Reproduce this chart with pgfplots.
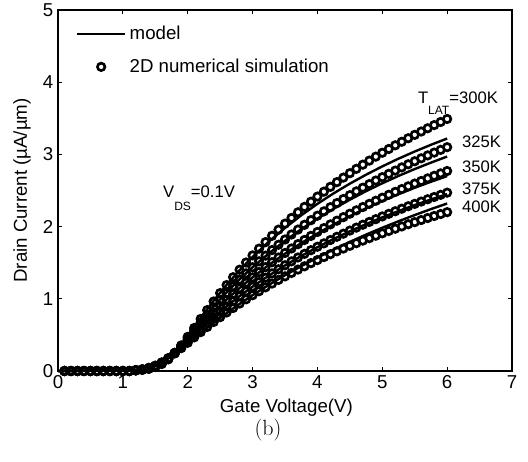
\documentclass[border=0pt]{standalone}
\usepackage{fontspec}
\setsansfont{Liberation Sans}
\usepackage{pgfplots}
\pgfplotsset{compat=1.18}
\newcommand{\axfont}{\sffamily\fontsize{14}{16}\selectfont}
\newcommand{\anfont}{\sffamily\fontsize{12.5}{14}\selectfont}
\newcommand{\subf}[2]{\raisebox{#1}{\fontsize{9}{10}\selectfont #2}}
\pgfplotsset{
  lineleg/.style={legend image code/.code={\path[draw=none,fill=none] (0pt,-3pt) rectangle (36pt,3pt);\draw[##1] (0pt,0pt) -- (36pt,0pt);}},
  markleg/.style={legend image code/.code={\path[draw=none,fill=none] (0pt,-3pt) rectangle (36pt,3pt);\draw[mark repeat=2,mark phase=2,##1] plot coordinates {(0pt,0pt) (18pt,0pt) (36pt,0pt)};}},
}
\begin{document}
\begin{tikzpicture}
\useasboundingbox (-43.5pt,-67.5pt) rectangle (352.5pt,278.25pt);
\begin{axis}[
  at={(0pt,0pt)}, anchor=south west,
  scale only axis, width=340.5pt, height=270.75pt,
  xmin=0, xmax=7, ymin=0, ymax=5,
  xtick={0,1,2,3,4,5,6,7}, ytick={0,1,2,3,4,5},
  xticklabels={\textsf{0},\textsf{1},\textsf{2},\textsf{3},\textsf{4},\textsf{5},\textsf{6},\textsf{7}},
  yticklabels={\textsf{0},\textsf{1},\textsf{2},\textsf{3},\textsf{4},\textsf{5}},
  xtick pos=both, ytick pos=both, tick align=inside,
  major tick length=3pt,
  clip=false,
  tick label style={font=\axfont},
  label style={font=\axfont},
  axis line style={line width=0.8pt},
  every tick/.style={black, line width=0.6pt},
  xlabel={Gate Voltage(V)},
  ylabel={Drain Current (µA/µm)},
  xlabel style={at={(axis description cs:0.503,-0.1025)}, anchor=center},
  ylabel style={at={(axis description cs:-0.0793,0.5)}, anchor=center},
  legend style={draw=none, fill=none, at={(0.039,0.965)}, anchor=north west,
    row sep=8pt, inner sep=0pt, font=\axfont,
    nodes={inner sep=2.5pt}},
  legend cell align=left,
  model/.style={black, line width=1.8pt, no marks},
  sim/.style={black, only marks, mark=o, mark size=2.8pt, line width=2pt,
    mark options={line width=2pt, solid}},
]
\addlegendimage{model, lineleg}
\addlegendentry{model}
\addlegendimage{sim, markleg}
\addlegendentry{2D numerical simulation}

% model curves
\addplot[model, forget plot] coordinates {(0,0)(1.2,0.009)(1.4,0.032)(1.6,0.102)(1.8,0.258)(2.0,0.487)(2.2,0.736)(2.4,0.974)(2.6,1.193)(2.8,1.395)(3.0,1.580)(3.25,1.791)(3.5,1.982)(3.75,2.156)(4.0,2.315)(4.25,2.461)(4.5,2.595)(4.75,2.719)(5.0,2.834)(5.25,2.941)(5.5,3.040)(5.75,3.133)(6.0,3.220)};
\addplot[model, forget plot] coordinates {(0,0)(1.2,0.010)(1.4,0.034)(1.6,0.107)(1.8,0.258)(2.0,0.466)(2.2,0.685)(2.4,0.895)(2.6,1.090)(2.8,1.270)(3.0,1.437)(3.25,1.628)(3.5,1.803)(3.75,1.964)(4.0,2.111)(4.25,2.247)(4.5,2.373)(4.75,2.491)(5.0,2.600)(5.25,2.702)(5.5,2.797)(5.75,2.886)(6.0,2.970)};
\addplot[model, forget plot] coordinates {(0,0)(1.2,0.011)(1.4,0.037)(1.6,0.112)(1.8,0.256)(2.0,0.442)(2.2,0.635)(2.4,0.819)(2.6,0.990)(2.8,1.149)(3.0,1.297)(3.25,1.469)(3.5,1.626)(3.75,1.771)(4.0,1.905)(4.25,2.030)(4.5,2.145)(4.75,2.253)(5.0,2.354)(5.25,2.449)(5.5,2.538)(5.75,2.621)(6.0,2.700)};
\addplot[model, forget plot] coordinates {(0,0)(1.2,0.012)(1.4,0.040)(1.6,0.116)(1.8,0.250)(2.0,0.416)(2.2,0.585)(2.4,0.745)(2.6,0.896)(2.8,1.037)(3.0,1.168)(3.25,1.321)(3.5,1.462)(3.75,1.593)(4.0,1.715)(4.25,1.829)(4.5,1.935)(4.75,2.034)(5.0,2.128)(5.25,2.215)(5.5,2.298)(5.75,2.376)(6.0,2.450)};
\addplot[model, forget plot] coordinates {(0,0)(1.2,0.012)(1.4,0.042)(1.6,0.114)(1.8,0.236)(2.0,0.380)(2.2,0.527)(2.4,0.668)(2.6,0.802)(2.8,0.929)(3.0,1.050)(3.25,1.192)(3.5,1.326)(3.75,1.452)(4.0,1.570)(4.25,1.682)(4.5,1.788)(4.75,1.889)(5.0,1.984)(5.25,2.074)(5.5,2.160)(5.75,2.242)(6.0,2.320)};

% simulation: 300K
\addplot[sim, forget plot] coordinates {(0.1,0)(0.2,0)(0.3,0)(0.4,0)(0.5,0)(0.6,0)(0.7,0)(0.8,0)(0.9,0)(1.0,0)(1.1,0)(1.2,0.008)(1.3,0.016)(1.4,0.030)(1.5,0.055)(1.6,0.097)(1.7,0.161)(1.8,0.248)(1.9,0.354)(2.0,0.473)(2.1,0.596)(2.2,0.721)(2.3,0.843)(2.4,0.963)(2.5,1.079)(2.6,1.190)(2.7,1.299)(2.8,1.403)(2.9,1.503)(3.0,1.601)(3.1,1.695)(3.2,1.785)(3.3,1.873)(3.4,1.958)(3.5,2.041)(3.6,2.120)(3.7,2.198)(3.8,2.273)(3.9,2.345)(4.0,2.416)(4.1,2.484)(4.2,2.551)(4.3,2.616)(4.4,2.679)(4.5,2.740)(4.6,2.800)(4.7,2.858)(4.8,2.914)(4.9,2.969)(5.0,3.023)(5.1,3.075)(5.2,3.126)(5.3,3.175)(5.4,3.224)(5.5,3.271)(5.6,3.317)(5.7,3.362)(5.8,3.406)(5.9,3.449)(6.0,3.491)};
% 325K
\addplot[sim, forget plot] coordinates {(0.1,0)(0.2,0)(0.3,0)(0.4,0)(0.5,0)(0.6,0)(0.7,0)(0.8,0)(0.9,0)(1.0,0)(1.1,0)(1.2,0.009)(1.3,0.018)(1.4,0.033)(1.5,0.060)(1.6,0.104)(1.7,0.167)(1.8,0.250)(1.9,0.348)(2.0,0.454)(2.1,0.563)(2.2,0.672)(2.3,0.778)(2.4,0.882)(2.5,0.983)(2.6,1.080)(2.7,1.174)(2.8,1.265)(2.9,1.352)(3.0,1.437)(3.1,1.519)(3.2,1.598)(3.3,1.675)(3.4,1.749)(3.5,1.821)(3.6,1.891)(3.7,1.959)(3.8,2.025)(3.9,2.089)(4.0,2.151)(4.1,2.211)(4.2,2.269)(4.3,2.326)(4.4,2.382)(4.5,2.436)(4.6,2.488)(4.7,2.539)(4.8,2.589)(4.9,2.638)(5.0,2.685)(5.1,2.731)(5.2,2.776)(5.3,2.820)(5.4,2.863)(5.5,2.905)(5.6,2.946)(5.7,2.986)(5.8,3.025)(5.9,3.063)(6.0,3.100)};
% 350K
\addplot[sim, forget plot] coordinates {(0.1,0)(0.2,0)(0.3,0)(0.4,0)(0.5,0)(0.6,0)(0.7,0)(0.8,0)(0.9,0)(1.0,0)(1.1,0)(1.2,0.010)(1.3,0.020)(1.4,0.037)(1.5,0.065)(1.6,0.110)(1.7,0.173)(1.8,0.251)(1.9,0.340)(2.0,0.435)(2.1,0.532)(2.2,0.627)(2.3,0.721)(2.4,0.811)(2.5,0.899)(2.6,0.984)(2.7,1.067)(2.8,1.146)(2.9,1.223)(3.0,1.297)(3.1,1.369)(3.2,1.439)(3.3,1.507)(3.4,1.572)(3.5,1.635)(3.6,1.697)(3.7,1.757)(3.8,1.815)(3.9,1.871)(4.0,1.926)(4.1,1.979)(4.2,2.031)(4.3,2.082)(4.4,2.131)(4.5,2.179)(4.6,2.225)(4.7,2.271)(4.8,2.315)(4.9,2.358)(5.0,2.400)(5.1,2.441)(5.2,2.481)(5.3,2.520)(5.4,2.558)(5.5,2.596)(5.6,2.632)(5.7,2.668)(5.8,2.703)(5.9,2.737)(6.0,2.770)};
% 375K
\addplot[sim, forget plot] coordinates {(0.1,0)(0.2,0)(0.3,0)(0.4,0)(0.5,0)(0.6,0)(0.7,0)(0.8,0)(0.9,0)(1.0,0)(1.1,0)(1.2,0.012)(1.3,0.022)(1.4,0.040)(1.5,0.070)(1.6,0.115)(1.7,0.176)(1.8,0.249)(1.9,0.330)(2.0,0.414)(2.1,0.499)(2.2,0.583)(2.3,0.664)(2.4,0.743)(2.5,0.820)(2.6,0.894)(2.7,0.966)(2.8,1.036)(2.9,1.103)(3.0,1.168)(3.1,1.231)(3.2,1.292)(3.3,1.352)(3.4,1.409)(3.5,1.465)(3.6,1.519)(3.7,1.572)(3.8,1.623)(3.9,1.673)(4.0,1.721)(4.1,1.768)(4.2,1.814)(4.3,1.859)(4.4,1.902)(4.5,1.945)(4.6,1.986)(4.7,2.026)(4.8,2.065)(4.9,2.103)(5.0,2.141)(5.1,2.177)(5.2,2.213)(5.3,2.248)(5.4,2.282)(5.5,2.315)(5.6,2.347)(5.7,2.379)(5.8,2.410)(5.9,2.440)(6.0,2.470)};
% 400K
\addplot[sim, forget plot] coordinates {(0.1,0)(0.2,0)(0.3,0)(0.4,0)(0.5,0)(0.6,0)(0.7,0)(0.8,0)(0.9,0)(1.0,0)(1.1,0)(1.2,0.013)(1.3,0.024)(1.4,0.044)(1.5,0.074)(1.6,0.119)(1.7,0.177)(1.8,0.244)(1.9,0.317)(2.0,0.391)(2.1,0.466)(2.2,0.539)(2.3,0.610)(2.4,0.679)(2.5,0.746)(2.6,0.811)(2.7,0.873)(2.8,0.934)(2.9,0.993)(3.0,1.050)(3.1,1.105)(3.2,1.159)(3.3,1.211)(3.4,1.262)(3.5,1.311)(3.6,1.358)(3.7,1.405)(3.8,1.450)(3.9,1.494)(4.0,1.536)(4.1,1.578)(4.2,1.618)(4.3,1.658)(4.4,1.696)(4.5,1.734)(4.6,1.770)(4.7,1.806)(4.8,1.840)(4.9,1.874)(5.0,1.907)(5.1,1.940)(5.2,1.971)(5.3,2.002)(5.4,2.033)(5.5,2.062)(5.6,2.091)(5.7,2.119)(5.8,2.147)(5.9,2.174)(6.0,2.200)};

\node[anchor=base west, inner sep=0pt, font=\anfont] at (axis cs:1.618,2.41) {V\subf{-10pt}{DS}=0.1V};
\node[anchor=base west, inner sep=0pt, font=\anfont] at (axis cs:5.547,3.70) {T\subf{-8pt}{LAT}=300K};
\node[anchor=base west, inner sep=0pt, font=\anfont] at (axis cs:6.225,3.10) {325K};
\node[anchor=base west, inner sep=0pt, font=\anfont] at (axis cs:6.225,2.756) {350K};
\node[anchor=base west, inner sep=0pt, font=\anfont] at (axis cs:6.225,2.44) {375K};
\node[anchor=base west, inner sep=0pt, font=\anfont] at (axis cs:6.225,2.20) {400K};
\end{axis}
\node[font=\fontsize{16.5}{18}\selectfont] at (157.5pt,-44.25pt) {(b)};
\end{tikzpicture}
\end{document}
